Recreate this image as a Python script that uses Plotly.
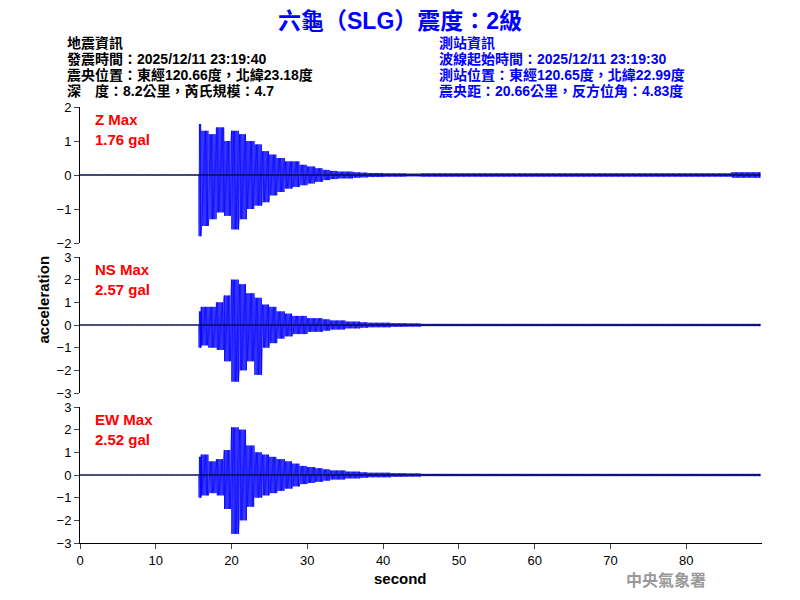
import numpy as np
import plotly.graph_objects as go

# per-second envelope (upper / lower peaks) from t=15 s to 44 s
sec = list(range(15, 45))
z_up = [1.5,1.3,1.2,1.4,1.0,1.3,1.2,1.0,0.9,0.7,0.6,0.5,0.4,0.4,0.3,0.25,0.2,0.15,0.12,0.1,0.1,0.08,0.07,0.06,0.06,0.05,0.05,0.05,0.04,0.04]
z_dn = [-1.8,-1.5,-1.3,-1.1,-1.2,-1.6,-1.3,-1.0,-0.9,-0.8,-0.6,-0.5,-0.4,-0.35,-0.3,-0.25,-0.2,-0.15,-0.12,-0.1,-0.1,-0.08,-0.07,-0.06,-0.06,-0.05,-0.05,-0.05,-0.04,-0.04]
ns_up = [0.6,0.8,0.8,1.0,1.3,2.0,1.8,1.4,1.2,0.9,0.8,0.6,0.5,0.4,0.4,0.3,0.3,0.25,0.2,0.2,0.15,0.15,0.12,0.1,0.1,0.1,0.08,0.08,0.07,0.07]
ns_dn = [-1.0,-0.9,-1.0,-1.1,-1.6,-2.5,-2.0,-1.6,-2.2,-1.0,-0.8,-0.6,-0.5,-0.4,-0.4,-0.3,-0.3,-0.25,-0.2,-0.2,-0.15,-0.15,-0.12,-0.1,-0.1,-0.1,-0.08,-0.08,-0.07,-0.07]
ew_up = [0.8,0.9,0.6,0.7,1.1,2.1,2.0,1.3,1.0,0.9,0.8,0.7,0.6,0.5,0.4,0.35,0.3,0.25,0.2,0.2,0.15,0.15,0.12,0.1,0.1,0.1,0.08,0.08,0.07,0.07]
ew_dn = [-1.0,-0.9,-0.8,-0.9,-1.5,-2.6,-2.0,-1.4,-1.0,-0.9,-0.8,-0.7,-0.6,-0.5,-0.4,-0.35,-0.3,-0.25,-0.2,-0.2,-0.15,-0.15,-0.12,-0.1,-0.1,-0.1,-0.08,-0.08,-0.07,-0.07]
onset = 15.7
pre_level = 0.01
tail_level = 0.05
z_late_start, z_late_level = 86, 0.08
t_end = 89.8

names = ["Z", "NS", "EW"]
maxes = ["1.76 gal", "2.57 gal", "2.52 gal"]
yranges = [[-2, 2], [-3, 3], [-3, 3]]

# page has an 8px body margin: convert target pixel positions to paper coords
OX, OY = 8, 8
def px(x): return (x - OX) / 800
def py(y): return 1 - (y - OY) / 600

pix_dom = [(107, 243), (257, 393), (407, 543)]
domains = [[py(b), py(a)] for a, b in pix_dom]

def build(up, dn, late=None):
    t = np.arange(0, t_end, 0.04)
    y = np.empty_like(t)
    for i, ti in enumerate(t):
        s = int(ti)
        if ti < onset:
            u, d = pre_level, -pre_level
        elif s in sec:
            u, d = up[sec.index(s)], dn[sec.index(s)]
        else:
            lv = late if (late and s >= z_late_start) else tail_level
            u, d = lv, -lv
        y[i] = u if i % 2 == 0 else d
    return t, y

series = [build(z_up, z_dn, z_late_level), build(ns_up, ns_dn), build(ew_up, ew_dn)]

fig = go.Figure()
for k, (t, y) in enumerate(series):
    ax = "" if k == 0 else str(k + 1)
    fig.add_trace(go.Scatter(x=t, y=y, mode="lines", line=dict(color="blue", width=0.8),
                             xaxis="x" + ax, yaxis="y" + ax, showlegend=False))
    fig.add_shape(type="line", x0=0, x1=t_end, y0=0, y1=0, xref="x" + ax, yref="y" + ax,
                  line=dict(color="black", width=1))
    lay = {}
    lay["xaxis" + ax] = dict(domain=[px(80), px(762)], range=[0, 90], anchor="y" + ax,
                              showticklabels=(k == 2), showline=(k == 2), linecolor="black",
                              ticks="outside" if k == 2 else "", showgrid=False, zeroline=False,
                              tickvals=list(range(0, 90, 10)),
                              tickfont=dict(family="Arial", size=13, color="black"))
    lay["yaxis" + ax] = dict(domain=domains[k], range=yranges[k], anchor="x" + ax, dtick=1,
                              showline=True, linecolor="black", ticks="outside", showgrid=False,
                              zeroline=False, tickfont=dict(family="Arial", size=13, color="black"))
    fig.update_layout(**lay)
    fig.add_annotation(text="<b>" + names[k] + " Max<br>" + maxes[k] + "</b>", xref="paper", yref="paper",
                       x=px(93), y=py(pix_dom[k][0] + 2), xanchor="left", yanchor="top", align="left",
                       showarrow=False, font=dict(family="Arial", size=15, color="red"))

cjk = "Arial, Noto Sans CJK TC"
fig.add_annotation(text="<b>六龜（SLG）震度：2級</b>", xref="paper", yref="paper", x=px(400), y=py(21),
                   xanchor="center", yanchor="middle", showarrow=False,
                   font=dict(family=cjk, size=23, color="blue"))
left = ["地震資訊", "發震時間：2025/12/11 23:19:40", "震央位置：東經120.66度，北緯23.18度", "深　度：8.2公里，芮氏規模：4.7"]
right = ["測站資訊", "波線起始時間：2025/12/11 23:19:30", "測站位置：東經120.65度，北緯22.99度", "震央距：20.66公里，反方位角：4.83度"]
for i in range(4):
    yy = py(43 + 16 * i)
    fig.add_annotation(text="<b>" + left[i] + "</b>", xref="paper", yref="paper", x=px(65), y=yy, xanchor="left",
                       yanchor="middle", showarrow=False, font=dict(family=cjk, size=14, color="black"))
    fig.add_annotation(text="<b>" + right[i] + "</b>", xref="paper", yref="paper", x=px(437), y=yy, xanchor="left",
                       yanchor="middle", showarrow=False, font=dict(family=cjk, size=14, color="blue"))
fig.add_annotation(text="<b>acceleration</b>", xref="paper", yref="paper", x=px(32), y=py(300),
                   textangle=-90, showarrow=False, font=dict(family="Arial", size=15, color="black"))
fig.add_annotation(text="<b>second</b>", xref="paper", yref="paper", x=px(400), y=py(589),
                   showarrow=False, font=dict(family="Arial", size=15, color="black"))
fig.add_annotation(text="<b>中央氣象署</b>", xref="paper", yref="paper", x=px(708), y=py(593),
                   showarrow=False, font=dict(family="Noto Sans CJK TC", size=16, color="#999999"))

fig.update_layout(width=800, height=600, margin=dict(l=0, r=0, t=0, b=0, autoexpand=False),
                  plot_bgcolor="white", paper_bgcolor="white")
fig.write_html("out.html")
